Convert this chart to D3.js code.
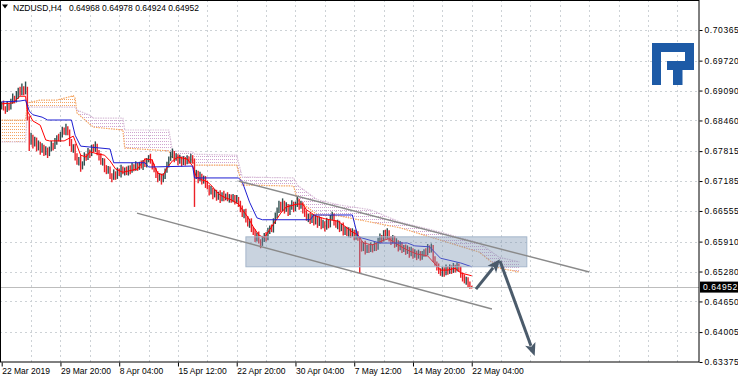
<!DOCTYPE html>
<html lang="en">
<head>
<meta charset="UTF-8">
<title>NZDUSD,H4</title>
<script src="https://cdn.jsdelivr.net/npm/d3@7"></script>
<style>
  html, body { margin: 0; padding: 0; background: #fff; }
  svg { display: block; font-family: "Liberation Sans", Arial, sans-serif; }
</style>
</head>
<body>
<div id="chart"></div>
<script>
// ---- data (prices in pips, 1 pip = 0.0001) ----
const symbol = 'NZDUSD,H4';
const firstOpen = 6876;

// H4 closes, bar 0 = 22 Mar 12:00 ... bar 256 = 22 May 04:00
const closes = [
  6880,6872,6868,6878,6874,6885,6893,6889,6900,6908,
  6903,6912,6906,6914,6850,6800,6812,6795,6805,6788,
  6797,6782,6790,6778,6785,6775,6786,6795,6790,6802,
  6810,6806,6818,6826,6820,6830,6822,6800,6785,6792,
  6770,6758,6765,6748,6755,6772,6768,6780,6775,6788,
  6784,6792,6780,6770,6758,6762,6745,6738,6745,6730,
  6725,6735,6728,6740,6733,6745,6738,6742,6735,6747,
  6740,6750,6744,6752,6747,6755,6749,6758,6752,6762,
  6768,6760,6750,6742,6732,6724,6730,6720,6728,6740,
  6752,6765,6772,6778,6765,6770,6760,6766,6756,6764,
  6758,6766,6760,6768,6762,6728,6735,6722,6730,6718,
  6725,6712,6705,6695,6700,6688,6695,6684,6692,6680,
  6690,6683,6688,6680,6686,6678,6684,6676,6681,6672,
  6660,6648,6655,6638,6628,6635,6618,6610,6598,6605,
  6592,6586,6595,6604,6598,6612,6620,6615,6632,6645,
  6655,6668,6660,6672,6658,6666,6652,6662,6670,6660,
  6668,6676,6665,6670,6658,6650,6640,6646,6635,6642,
  6632,6640,6628,6636,6624,6630,6620,6633,6626,6640,
  6645,6632,6625,6630,6618,6624,6612,6618,6608,6614,
  6606,6612,6602,6608,6598,6585,6578,6585,6572,6580,
  6574,6582,6576,6584,6578,6592,6600,6595,6608,6602,
  6610,6598,6592,6598,6585,6590,6578,6585,6574,6580,
  6570,6576,6565,6572,6562,6568,6560,6566,6558,6564,
  6570,6566,6578,6572,6580,6555,6545,6538,6530,6524,
  6532,6525,6535,6528,6536,6530,6538,6533,6540,6534,
  6522,6515,6508,6512,6502,6496.8,6495.2
];
const upWick = [
  6,8,4,9,5,7,10,5,8,7, 9,12,6,14,3,5,8,4,7,5, 7,4,8,5,7,4,5,8,4,7,
  5,8,4,7,5,9,4,5,7,4, 5,7,4,8,5,7,4,8,5,7, 8,10,5,4,7,5,4,7,5,4,
  5,8,4,7,5,8,4,5,7,4, 5,7,4,8,5,4,7,5,8,5, 5,8,4,5,4,7,5,4,7,5,
  7,5,8,9,4,7,5,8,4,7, 5,7,4,8,5,4,7,5,8,4, 5,4,7,5,8,4,7,5,4,7,
  5,8,4,7,5,4,7,5,8,4, 5,7,4,5,7,4,5,4,7,5, 7,4,8,5,7,8,5,7,8,7,
  8,9,7,10,5,8,4,7,8,5, 7,9,5,7,4,5,7,4,5,7, 5,7,4,8,5,7,4,8,5,7,
  9,5,4,7,5,4,7,5,4,7, 5,7,4,8,5,4,7,5,8,4, 5,7,4,8,5,7,8,5,7,8,
  9,5,4,7,5,8,4,7,5,4, 5,7,4,8,5,7,4,8,5,7, 5,7,8,5,7,4,5,4,7,5,
  7,5,8,4,7,5,8,4,7,5, 5,4,7,5,4,5,1
];
const downWick = [
  7,5,8,4,7,5,4,7,5,8, 5,4,7,5,4,18,5,8,4,7, 5,8,4,7,5,8,4,5,7,4,
  7,4,5,8,4,5,7,8,5,7, 8,5,7,10,5,4,7,5,8,4, 5,4,7,8,5,7,8,5,4,7,
  9,4,7,5,4,7,5,8,4,5, 7,4,5,4,7,5,4,7,4,5, 4,5,7,5,7,8,5,9,4,5,
  4,5,4,5,7,4,8,5,7,4, 7,4,5,4,7,64,5,8,4,7, 5,8,4,7,5,8,4,7,5,8,
  4,7,5,4,7,5,4,7,5,8, 7,5,8,7,5,8,7,5,8,7, 5,9,4,5,7,4,5,4,5,4,
  5,4,7,5,8,4,7,5,4,7, 5,4,7,5,8,7,5,8,7,5, 7,5,8,4,7,5,8,4,7,5,
  4,7,5,8,7,5,8,7,5,8, 7,5,8,7,5,60,8,7,8,5, 7,5,8,5,7,4,5,7,4,5,
  5,7,8,5,7,5,8,5,7,5, 7,5,8,5,7,5,8,5,7,5, 5,7,4,5,4,7,5,8,7,5,
  7,8,5,7,5,7,5,7,5,7, 7,8,5,8,7,5,2.8
];

// Ichimoku lines: [bar, pips]
const tenkan = [
  [0,6881],[6,6883],[10,6897],[13,6897],[14,6866],[17,6845],[21,6836],[24,6805],[26,6803],
  [34,6803],[37,6809],[39,6813],[40,6803],[43,6773],[46,6769],[48,6780],[53,6775],[56,6773],
  [59,6761],[62,6744],[66,6737],[74,6744],[78,6765],[82,6763],[83,6752],[85,6735],[88,6731],
  [90,6746],[93,6761],[96,6769],[101,6765],[104,6750],[106,6727],[109,6721],[112,6717],
  [115,6706],[116,6700],[119,6689],[122,6683],[125,6679],[129,6670],[131,6658],[134,6643],
  [137,6622],[140,6605],[143,6599],[147,6622],[152,6651],[155,6664],[161,6670],[164,6670],
  [166,6658],[171,6645],[176,6639],[183,6634],[186,6626],[191,6611],[194,6605],[197,6588],
  [202,6584],[208,6594],[211,6597],[215,6586],[221,6573],[226,6565],[232,6561],[235,6548],
  [239,6531],[243,6531],[247,6535],[250,6525],[256,6519]
];
const kijun = [
  [0,6885],[10,6887],[13,6889],[15,6866],[17,6858],[22,6853],[25,6847],[38,6847],[40,6815],
  [43,6792],[59,6786],[61,6757],[78,6757],[80,6748],[104,6750],[105,6725],[129,6725],
  [131,6717],[135,6674],[139,6641],[142,6637],[168,6637],[170,6647],[191,6647],[194,6601],
  [206,6588],[221,6588],[225,6582],[233,6580],[239,6556],[250,6546],[256,6538]
];
// cloud (shifted 26 bars ahead)
const cloudBars = [0,13,14,21,30,39,40,41,48,50,66,67,91,93,104,105,128,131,159,161,172,184,201,217,239,260,271,282];
const spanA =     [6847,6847,6883,6889,6889,6898,6893,6862,6838,6832,6826,6788,6782,6767,6763,6752,6752,6710,6708,6679,6647,6645,6632,6620,6594,6569,6535,6527];
const spanB =     [6801,6801,6874,6874,6874,6874,6874,6868,6857,6851,6851,6826,6826,6782,6780,6775,6773,6727,6725,6710,6679,6668,6658,6632,6611,6588,6558,6548];

// axis ticks
const priceTicks = [0.70365,0.69720,0.69090,0.68460,0.67815,0.67185,0.66555,0.65910,0.65280,0.64650,0.64005,0.63375];
const timeTickBars = [0,32,64,96,128,160,192,224,256];
const timeTickLabels = ['22 Mar 2019','29 Mar 20:00','8 Apr 04:00','15 Apr 12:00','22 Apr 20:00',
  '30 Apr 04:00','7 May 12:00','14 May 20:00','22 May 04:00'];

// drawn objects: [bar, pips]
const channelUpper = [[129,6718.6],[320,6527]];
const channelLower = [[73.7,6651],[267,6449]];
const zone = [[133,6601],[286,6538]];
const arrowUp = [[258.3,6491],[271.4,6554]];
const arrowDown = [[271.4,6550],[290.3,6350]];

// ---- setup ----
const W = 738, H = 377;
const frame = { right: 699, bottom: 362 };
const bullColor = '#2f4f4f', bearColor = '#ec2128';
const pip = v => v / 10000;

const candles = closes.map((c, i) => {
  const o = i === 0 ? firstOpen : closes[i - 1];
  return {
    i,
    o: pip(o), c: pip(c),
    h: pip(Math.max(o, c) + upWick[i]),
    l: pip(Math.min(o, c) - downWick[i])
  };
});

const x = d3.scaleLinear().domain([0, 380]).range([1.7, 699.4]);
const y = d3.scaleLinear().domain([0.63375, 0.70365]).range([362, 30]);

const svg = d3.select('#chart').append('svg')
  .attr('width', W).attr('height', H)
  .style('font-size', '8.5px');

const defs = svg.append('defs');
defs.append('clipPath').attr('id', 'plotClip')
  .append('rect').attr('x', 0).attr('y', 0).attr('width', frame.right).attr('height', frame.bottom);
// dotted cloud fill, like the MT4 histogram style
[['cloudUp', '#f4a460'], ['cloudDown', '#cfa4cf']].forEach(([id, col]) => {
  const p = defs.append('pattern').attr('id', id)
    .attr('patternUnits', 'userSpaceOnUse').attr('width', 2).attr('height', 3);
  p.append('rect').attr('width', 1).attr('height', 1).attr('fill', col);
});

const plot = svg.append('g').attr('clip-path', 'url(#plotClip)');

// grid
const grid = plot.append('g')
  .attr('stroke', '#cdd2d6').attr('stroke-width', 1).attr('stroke-dasharray', '2,3');
grid.selectAll('.hg').data(priceTicks).join('line')
  .attr('x1', 0).attr('x2', frame.right)
  .attr('y1', d => Math.round(y(d)) + 0.5).attr('y2', d => Math.round(y(d)) + 0.5);
grid.selectAll('.vg').data(d3.range(16, 381, 16)).join('line')
  .attr('y1', 0).attr('y2', frame.bottom)
  .attr('x1', d => Math.round(x(d)) + 0.5).attr('x2', d => Math.round(x(d)) + 0.5);

// cloud
const cloud = cloudBars.map((b, k) => ({ b, a: pip(spanA[k]), s: pip(spanB[k]) }));
const area = d3.area().x(d => x(d.b)).y0(d => y(d.a)).y1(d => y(d.s));
const gCloud = plot.append('g');
d3.pairs(cloud).forEach(([p, q]) => {
  const bull = p.a + q.a > p.s + q.s;
  gCloud.append('path').attr('d', area([p, q]))
    .attr('fill', bull ? 'url(#cloudUp)' : 'url(#cloudDown)');
});
gCloud.append('path')
  .attr('d', d3.line().x(d => x(d.b)).y(d => y(d.a))(cloud))
  .attr('fill', 'none').attr('stroke', '#f4a460').attr('stroke-width', 1.2)
  .attr('stroke-dasharray', '1.5,1');
gCloud.append('path')
  .attr('d', d3.line().x(d => x(d.b)).y(d => y(d.s))(cloud))
  .attr('fill', 'none').attr('stroke', '#d8bfd8').attr('stroke-width', 1.2)
  .attr('stroke-dasharray', '1.5,1');

// candles
plot.append('g').selectAll('line').data(candles).join('line')
  .attr('x1', d => x(d.i)).attr('x2', d => x(d.i))
  .attr('y1', d => y(d.h)).attr('y2', d => y(d.l))
  .attr('stroke', d => d.c >= d.o ? bullColor : bearColor)
  .attr('stroke-width', 1.4);

// tenkan / kijun
const ichiLine = d3.line().x(d => x(d[0])).y(d => y(pip(d[1])));
plot.append('path').attr('d', ichiLine(tenkan))
  .attr('fill', 'none').attr('stroke', '#ff0000').attr('stroke-width', 1);
plot.append('path').attr('d', ichiLine(kijun))
  .attr('fill', 'none').attr('stroke', '#1e1ed2').attr('stroke-width', 1);

// bid line
const last = candles[candles.length - 1];
plot.append('line')
  .attr('x1', 0).attr('x2', frame.right)
  .attr('y1', Math.round(y(last.c)) + 0.5).attr('y2', Math.round(y(last.c)) + 0.5)
  .attr('stroke', '#bdbdbd').attr('stroke-width', 1);

// zone rectangle
plot.append('rect')
  .attr('x', x(zone[0][0])).attr('y', y(pip(zone[0][1])))
  .attr('width', x(zone[1][0]) - x(zone[0][0]))
  .attr('height', y(pip(zone[1][1])) - y(pip(zone[0][1])))
  .attr('fill', '#7f97b3').attr('fill-opacity', 0.42)
  .attr('stroke', '#a6b7cb').attr('stroke-width', 1);

// channel
[channelUpper, channelLower].forEach(ch => {
  plot.append('line')
    .attr('x1', x(ch[0][0])).attr('y1', y(pip(ch[0][1])))
    .attr('x2', x(ch[1][0])).attr('y2', y(pip(ch[1][1])))
    .attr('stroke', '#8a8a8a').attr('stroke-width', 1.4);
});

// arrows
const arrowColor = '#4b5b6b';
[arrowUp, arrowDown].forEach(ar => {
  const p0 = [x(ar[0][0]), y(pip(ar[0][1]))];
  const p1 = [x(ar[1][0]), y(pip(ar[1][1]))];
  const dx = p1[0] - p0[0], dy = p1[1] - p0[1];
  const len = Math.hypot(dx, dy), ux = dx / len, uy = dy / len;
  const headL = 13, headW = 5.5;
  const bx = p1[0] - ux * headL, by = p1[1] - uy * headL;
  plot.append('line')
    .attr('x1', p0[0]).attr('y1', p0[1]).attr('x2', bx + ux * 2).attr('y2', by + uy * 2)
    .attr('stroke', arrowColor).attr('stroke-width', 3);
  plot.append('path')
    .attr('d', `M${p1[0]},${p1[1]}L${bx - uy * headW},${by + ux * headW}L${bx + ux * 3},${by + uy * 3}L${bx + uy * headW},${by - ux * headW}Z`)
    .attr('fill', arrowColor);
});

// logo
const logo = svg.append('g').attr('transform', `translate(${frame.right - 47},43)`).attr('fill', '#1d5aa6');
logo.append('path').attr('d', 'M0,0H42V27H15V18H33V9H9V42H0Z');
logo.append('rect').attr('x', 21).attr('y', 27).attr('width', 9.5).attr('height', 15);

// frame
svg.append('rect')
  .attr('x', 0.5).attr('y', 0.5).attr('width', frame.right - 0.5).attr('height', frame.bottom - 0.5)
  .attr('fill', 'none').attr('stroke', '#000').attr('stroke-width', 1);

// price axis
const yAxis = svg.append('g').attr('transform', `translate(${frame.right + 0.5},0)`)
  .call(d3.axisRight(y).tickValues(priceTicks).tickFormat(d3.format('.5f')).tickSize(3).tickPadding(2));
yAxis.select('.domain').remove();
yAxis.selectAll('text').attr('fill', '#000').style('letter-spacing', '0.6px')
  .style('font-size', '8.5px').style('font-family', '"Liberation Sans", Arial, sans-serif');
yAxis.selectAll('line').attr('stroke', '#000');

// time axis
const xAxis = svg.append('g').attr('transform', `translate(0,${frame.bottom + 0.5})`)
  .call(d3.axisBottom(x).tickValues(timeTickBars).tickFormat((d, k) => timeTickLabels[k]).tickSize(4));
xAxis.select('.domain').remove();
xAxis.selectAll('text').attr('text-anchor', 'start').attr('x', 0).attr('y', 11.5).attr('dy', 0)
  .attr('fill', '#000').style('font-size', '8.5px').style('font-family', '"Liberation Sans", Arial, sans-serif');
xAxis.selectAll('line').attr('stroke', '#000');

// current price label
const ly = y(last.c);
svg.append('rect').attr('x', frame.right + 1).attr('y', ly - 5.5).attr('width', W - frame.right - 1).attr('height', 11)
  .attr('fill', '#000');
svg.append('text').attr('x', frame.right + 4).attr('y', ly + 3).attr('fill', '#fff')
  .style('letter-spacing', '0.6px').text(d3.format('.5f')(last.c));

// title
svg.append('path').attr('d', 'M2,4.5H8L5,8.5Z').attr('fill', '#000');
svg.append('text').attr('x', 13).attr('y', 10.5).attr('fill', '#000').text(symbol);
svg.append('text').attr('x', 69).attr('y', 10.5).attr('fill', '#000')
  .text([last.o, last.h, last.l, last.c].map(d3.format('.5f')).join(' '));
</script>
</body>
</html>
